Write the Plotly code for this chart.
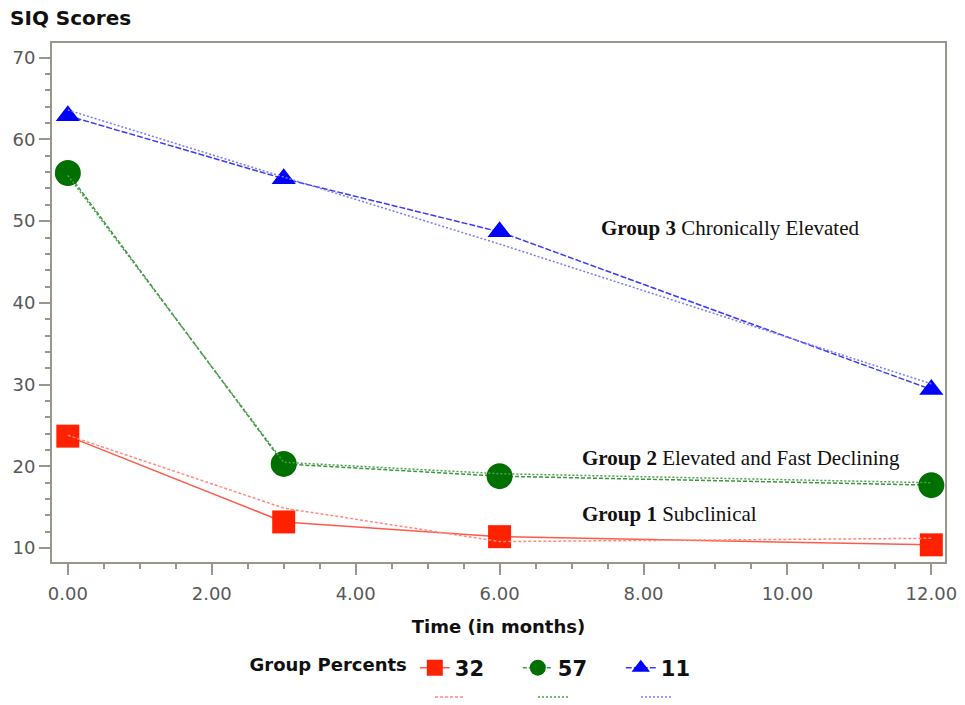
import plotly.graph_objects as go

months = [0, 3, 6, 12]
g1_obs = [23.7, 13.2, 11.4, 10.4]
g1_pred = [23.8, 14.9, 10.8, 11.2]
g2_obs = [55.9, 20.3, 18.8, 17.7]
g2_pred = [55.6, 20.5, 19.1, 18.0]
g3_obs = [62.9, 55.2, 48.7, 29.4]
g3_pred = [63.6, 55.4, 47.2, 30.1]
group_labels = ["32", "57", "11"]
annot_x = [7.12, 7.12, 7.38]
annot_y = [14.2, 21.0, 49.2]
annot_bold = ["Group 1", "Group 2", "Group 3"]
annot_text = ["Subclinical", "Elevated and Fast Declining", "Chronically Elevated"]

fig = go.Figure()

obs_style = [
    dict(y=g1_obs, lc="#ff5a4a", dash="solid", sym="square", mc="#ff2200", ms=23),
    dict(y=g2_obs, lc="#3c963c", dash="4px,2px", sym="circle", mc="#007000", ms=26),
    dict(y=g3_obs, lc="#3a3aff", dash="6px,2px", sym="triangle-up", mc="#0000ff", ms=21),
]
pred_style = [
    dict(y=g1_pred, lc="#ff8a80", dash="3px,2px"),
    dict(y=g2_pred, lc="#4fa04f", dash="2px,2px"),
    dict(y=g3_pred, lc="#7a7aff", dash="2px,2px"),
]

for s, lab in zip(obs_style, group_labels):
    fig.add_trace(go.Scatter(
        x=months, y=s["y"], mode="lines+markers", name=lab,
        line=dict(color=s["lc"], width=1.5, dash=s["dash"]),
        marker=dict(symbol=s["sym"], color=s["mc"], size=s["ms"]),
        legend="legend",
    ))
for s in pred_style:
    fig.add_trace(go.Scatter(
        x=months, y=s["y"], mode="lines", name=" ",
        line=dict(color=s["lc"], width=1.5, dash=s["dash"]),
        legend="legend2",
    ))

for xa, ya, b, t in zip(annot_x, annot_y, annot_bold, annot_text):
    fig.add_annotation(x=xa, y=ya, xref="x", yref="y", xanchor="left", yanchor="middle",
                       text=f"<b>{b}</b> {t}", showarrow=False,
                       font=dict(family="Liberation Serif", size=21, color="#111111"))

axis_col = "#9a968e"
tick_font = dict(family="DejaVu Sans", size=18, color="#585858")
bold_font = dict(family="DejaVu Sans", size=18, color="#111111", weight="bold")
fig.update_xaxes(
    range=[-0.22, 12.19], tickvals=[0, 2, 4, 6, 8, 10, 12], tickformat=".2f",
    showline=True, linecolor=axis_col, linewidth=2, mirror=True,
    ticks="outside", ticklen=11, tickwidth=2, tickcolor=axis_col,
    minor=dict(ticks="outside", ticklen=5, tickwidth=1.5, tickcolor=axis_col, dtick=0.5),
    showgrid=False, zeroline=False, ticklabelstandoff=3,
    tickfont=tick_font,
    title=dict(text="Time (in months)", font=bold_font, standoff=18),
)
fig.update_yaxes(
    range=[8.3, 71.8], tickvals=[10, 20, 30, 40, 50, 60, 70],
    showline=True, linecolor=axis_col, linewidth=2, mirror=True,
    ticks="outside", ticklen=11, tickwidth=2, tickcolor=axis_col,
    minor=dict(ticks="outside", ticklen=5, tickwidth=1.5, tickcolor=axis_col, dtick=2),
    showgrid=False, zeroline=False,
    tickfont=tick_font,
)

fig.update_layout(
    width=965, height=705,
    margin=dict(l=52, r=20, t=43, b=143, autoexpand=False),
    plot_bgcolor="white", paper_bgcolor="white",
    title=dict(text="SIQ Scores", x=0.0104, xanchor="left", xref="container",
               y=0.974, yanchor="middle", yref="container",
               font=dict(family="DejaVu Sans", size=20, color="#111111", weight="bold")),
    legend=dict(orientation="h", xref="container", yref="container",
                x=0.2565, xanchor="left", y=0.0525, yanchor="middle",
                title=dict(text="Group Percents", font=bold_font),
                font=dict(family="DejaVu Sans", size=21, color="#111111", weight="bold"),
                entrywidth=58, entrywidthmode="pixels", bgcolor="rgba(0,0,0,0)"),
    legend2=dict(orientation="h", xref="container", yref="container",
                 x=0.4456, xanchor="left", y=0.0113, yanchor="middle",
                 font=dict(family="DejaVu Sans", size=8, color="#111111"),
                 entrywidth=58, entrywidthmode="pixels", bgcolor="rgba(0,0,0,0)"),
    showlegend=True,
)

fig.write_html("out.html", config={"displayModeBar": False},
               post_script="document.body.style.margin='0';document.body.style.overflow='hidden';")
